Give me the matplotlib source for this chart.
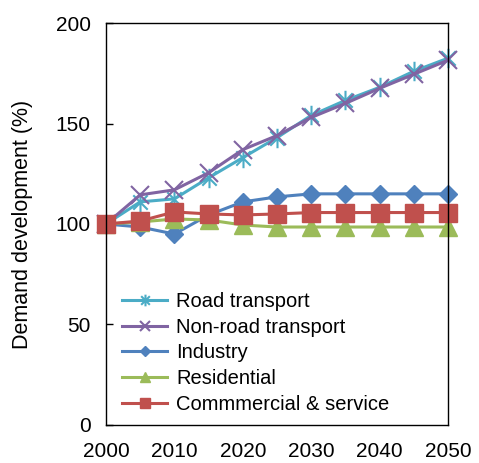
import numpy as np
import matplotlib
matplotlib.use('Agg')
import matplotlib.pyplot as plt
from matplotlib.path import Path

plt.rcParams['font.family'] = ['Liberation Sans', 'DejaVu Sans']

years = [2000, 2005, 2010, 2015, 2020, 2025, 2030, 2035, 2040, 2045, 2050]
road = [100, 111, 112.5, 123, 133, 143, 154, 161.5, 168, 176, 182.5]
nonroad = [100, 114.5, 117, 125.5, 137, 144, 153, 160, 167.5, 174.5, 181.5]
industry = [100, 98.5, 95, 104.5, 111, 113.5, 115, 115, 115, 115, 115]
residential = [100, 101, 102.5, 102, 99.5, 98.5, 98.5, 98.5, 98.5, 98.5, 98.5]
commercial = [100, 101.5, 106, 105, 104.5, 105, 105.7, 105.7, 105.7, 105.7, 105.7]

# asterisco tipo Excel (x + linha vertical)
star = Path([(-1, -1), (1, 1), (-1, 1), (1, -1), (0, -1.35), (0, 1.35)],
            [Path.MOVETO, Path.LINETO, Path.MOVETO, Path.LINETO, Path.MOVETO, Path.LINETO])

fig = plt.figure(figsize=(4.79, 4.63), dpi=100)
ax = fig.add_axes([0.2213, 0.0821, 0.714, 0.8682])

lw = 2.2
ax.plot(years, road, color='#4BACC6', lw=lw, marker=star, ms=14, mew=1.5, label='Road transport', clip_on=False)
ax.plot(years, nonroad, color='#8064A2', lw=lw, marker='x', ms=13, mew=1.5, label='Non-road transport', clip_on=False)
ax.plot(years, industry, color='#4F81BD', lw=lw, marker='D', ms=9, label='Industry', clip_on=False)
ax.plot(years, residential, color='#9BBB59', lw=lw, marker='^', ms=13, label='Residential', clip_on=False)
ax.plot(years, commercial, color='#C0504D', lw=lw, marker='s', ms=12.5, label='Commmercial & service', clip_on=False)

ax.set_xlim(2000, 2050)
ax.set_ylim(0, 200)
ax.set_xticks([2000, 2010, 2020, 2030, 2040, 2050])
ax.set_yticks([0, 50, 100, 150, 200])
ax.tick_params(axis='y', direction='in', length=5, width=1, pad=11, labelsize=15)
ax.tick_params(axis='x', length=0, pad=12, labelsize=15)
for s in ax.spines.values():
    s.set_linewidth(1)
ax.set_ylabel('Demand development (%)', fontsize=15.5)
ax.yaxis.set_label_coords(-0.213, 0.5)

leg = ax.legend(loc='lower left', bbox_to_anchor=(0.047, 0.0275), frameon=False,
                fontsize=14.5, borderpad=0, borderaxespad=0, handlelength=2.24,
                handletextpad=0.45, labelspacing=0.335, markerscale=0.6)

plt.savefig('out.png', dpi=100)
